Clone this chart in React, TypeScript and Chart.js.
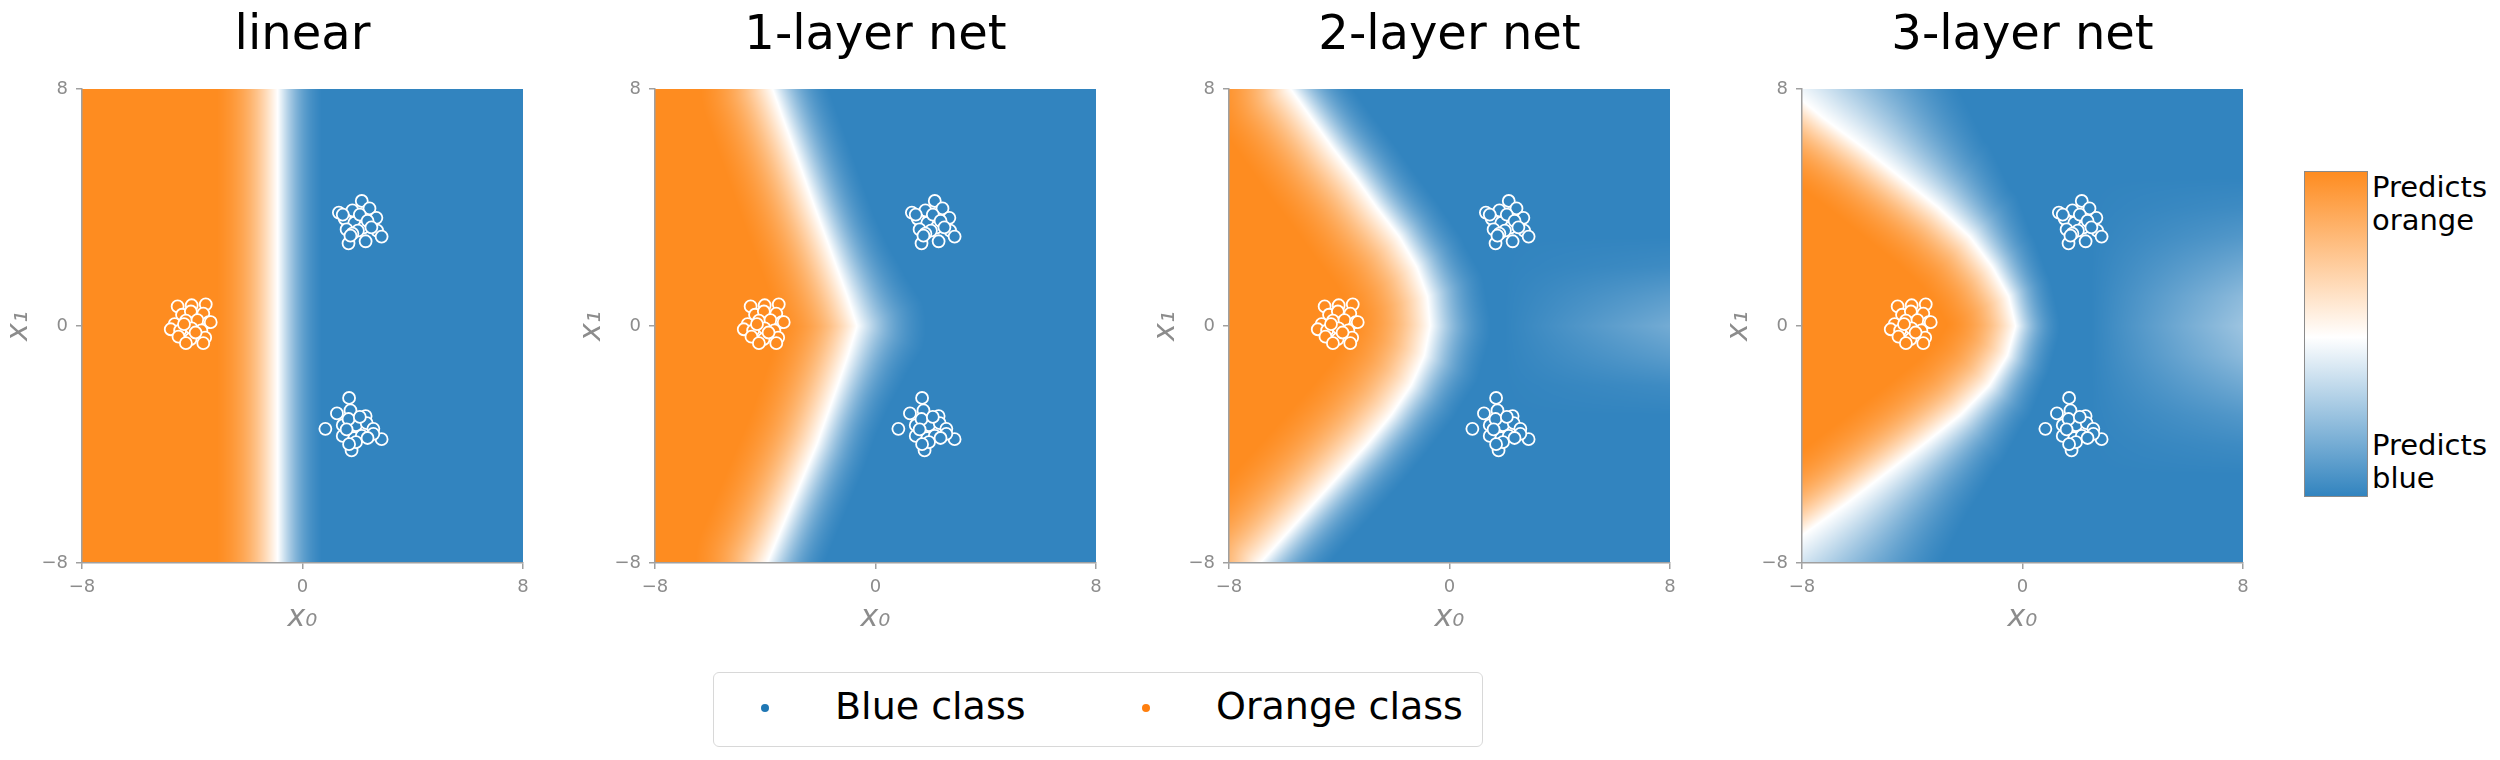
import React, { useEffect, useRef } from 'react';
import { Chart, registerables } from 'chart.js';

Chart.register(...registerables);

const FONT = "'DejaVu Sans', 'Liberation Sans', sans-serif";

// ---------- data ----------
const PANEL_TITLES = ['linear', '1-layer net', '2-layer net', '3-layer net'];
const AXIS_TICKS = [-8, 0, 8];
const AXIS_MIN = -8;
const AXIS_MAX = 8;

// sample rows (x1 values) at which the decision boundary was read
const ROW_Y = [8, 7, 6, 5, 4, 3, 2, 1, 0, -1, -2, -3, -4, -5, -6, -7, -8];

// x0 position of the white (p = 0.5) boundary on each row
const BOUNDARY_LINEAR = [-0.9, -0.9, -0.9, -0.9, -0.9, -0.9, -0.9, -0.9, -0.9, -0.9, -0.9, -0.9, -0.9, -0.9, -0.9, -0.9, -0.9];
const BOUNDARY_NET1 = [-3.73, -3.35, -2.96, -2.58, -2.2, -1.8, -1.41, -1.02, -0.67, -1.0, -1.37, -1.75, -2.13, -2.58, -3.03, -3.48, -3.93];
const BOUNDARY_NET2 = [-5.76, -5.0, -4.23, -3.4, -2.64, -1.81, -1.19, -0.8, -0.7, -0.91, -1.39, -2.11, -2.99, -3.96, -4.93, -5.9, -6.86];
const BOUNDARY_NET3 = [-8.5, -7.2, -5.75, -4.4, -3.05, -1.9, -1.1, -0.5, -0.25, -0.55, -1.2, -2.25, -3.6, -5.0, -6.4, -7.9, -9.4];

// width of the fade from the boundary to full orange / full blue
const ORANGE_WIDTH_LINEAR = [2.2, 2.2, 2.2, 2.2, 2.2, 2.2, 2.2, 2.2, 2.2, 2.2, 2.2, 2.2, 2.2, 2.2, 2.2, 2.2, 2.2];
const BLUE_WIDTH_LINEAR = [1.6, 1.6, 1.6, 1.6, 1.6, 1.6, 1.6, 1.6, 1.6, 1.6, 1.6, 1.6, 1.6, 1.6, 1.6, 1.6, 1.6];
const ORANGE_WIDTH_NET1 = [2.6, 2.6, 2.6, 2.6, 2.6, 2.6, 2.6, 2.6, 2.6, 2.6, 2.6, 2.6, 2.6, 2.6, 2.6, 2.6, 2.6];
const BLUE_WIDTH_NET1 = [1.9, 1.9, 1.9, 1.9, 1.9, 1.9, 2.0, 2.2, 2.5, 2.2, 2.0, 1.9, 1.9, 1.9, 1.9, 1.9, 1.9];
const ORANGE_WIDTH_NET2 = [2.8, 2.8, 2.8, 2.8, 2.8, 2.8, 2.8, 2.8, 2.8, 2.8, 2.8, 2.8, 2.8, 2.8, 2.8, 2.8, 2.8];
const BLUE_WIDTH_NET2 = [1.8, 1.8, 1.8, 1.8, 1.8, 1.8, 1.9, 2.1, 2.2, 2.1, 1.9, 1.8, 1.8, 1.8, 1.8, 1.8, 1.8];
const ORANGE_WIDTH_NET3 = [2.4, 2.4, 2.4, 2.4, 2.4, 2.4, 2.4, 2.4, 2.4, 2.4, 2.4, 2.4, 2.4, 2.4, 2.4, 2.4, 2.4];
const BLUE_WIDTH_NET3 = [6.5, 5.5, 4.5, 3.6, 2.8, 2.2, 1.8, 1.6, 1.6, 1.6, 1.8, 2.2, 2.8, 3.6, 4.5, 5.5, 6.5];

// value of the field at the right edge (x0 = 8) on each row (1 = full blue)
const RIGHT_EDGE_LINEAR = [1, 1, 1, 1, 1, 1, 1, 1, 1, 1, 1, 1, 1, 1, 1, 1, 1];
const RIGHT_EDGE_NET1 = [1, 1, 1, 1, 1, 1, 1, 1, 1, 1, 1, 1, 1, 1, 1, 1, 1];
const RIGHT_EDGE_NET2 = [1, 1, 1, 1, 1, 1, 0.97, 0.9, 0.84, 0.9, 0.97, 1, 1, 1, 1, 1, 1];
const RIGHT_EDGE_NET3 = [1, 1, 1, 1, 0.97, 0.92, 0.85, 0.78, 0.74, 0.78, 0.85, 0.92, 0.97, 1, 1, 1, 1];
const RIDGE_START = [8, 8, 2, 2.5];

// training points
const BLUE_X = [1.32, 2.15, 2.43, 1.81, 1.53, 2.68, 1.88, 2.22, 1.6, 2.01, 2.71, 2.87, 1.67, 2.29, 1.81, 1.46, 2.08, 2.36, 1.74, 2.5,
  1.69, 1.25, 1.74, 2.29, 1.46, 1.94, 2.33, 2.57, 0.83, 1.67, 2.08, 1.46, 1.88, 2.15, 2.87, 1.78, 1.94, 2.57, 1.6, 2.36, 1.69];
const BLUE_Y = [3.83, 4.22, 3.97, 3.9, 3.62, 3.65, 3.48, 3.33, 3.26, 3.22, 3.22, 3.02, 2.79, 2.86, 3.12, 3.76, 3.76, 3.55, 3.05, 3.33,
  -2.43, -2.95, -2.85, -3.04, -3.35, -3.35, -3.28, -3.47, -3.47, -3.14, -3.07, -3.71, -3.78, -3.71, -3.82, -4.2, -3.92, -3.64, -3.49, -3.78, -3.99];
const ORANGE_X = [-4.53, -4.02, -3.51, -4.37, -4.05, -3.6, -4.64, -4.23, -3.81, -3.4, -4.78, -4.44, -4.02, -3.67, -3.33, -4.5, -4.06, -3.53, -4.23, -3.6, -4.3, -3.88];
const ORANGE_Y = [0.66, 0.7, 0.73, 0.38, 0.49, 0.42, 0.06, 0.18, 0.2, 0.13, -0.11, -0.15, -0.08, -0.15, 0.13, -0.36, -0.44, -0.39, -0.58, -0.58, 0.06, -0.22];

const LEGEND_LABELS = ['Blue class', 'Orange class'];
const COLORBAR_LABELS = [['Predicts', 'orange'], ['Predicts', 'blue']];

// ---------- styles ----------
const ORANGE_RGB = [254, 140, 32];
const WHITE_RGB = [255, 255, 255];
const BLUE_RGB = [50, 132, 191];
const AXIS_COLOR = '#a0a0a0';
const TICK_COLOR = '#8c8c8c';
const SHAPE = 1.5;

type PanelCfg = {
  title: string;
  boundary: number[];
  orangeWidth: number[];
  blueWidth: number[];
  rightEdge: number[];
  ridgeStart: number;
};

const PANELS: PanelCfg[] = [
  { title: PANEL_TITLES[0], boundary: BOUNDARY_LINEAR, orangeWidth: ORANGE_WIDTH_LINEAR, blueWidth: BLUE_WIDTH_LINEAR, rightEdge: RIGHT_EDGE_LINEAR, ridgeStart: RIDGE_START[0] },
  { title: PANEL_TITLES[1], boundary: BOUNDARY_NET1, orangeWidth: ORANGE_WIDTH_NET1, blueWidth: BLUE_WIDTH_NET1, rightEdge: RIGHT_EDGE_NET1, ridgeStart: RIDGE_START[1] },
  { title: PANEL_TITLES[2], boundary: BOUNDARY_NET2, orangeWidth: ORANGE_WIDTH_NET2, blueWidth: BLUE_WIDTH_NET2, rightEdge: RIGHT_EDGE_NET2, ridgeStart: RIDGE_START[2] },
  { title: PANEL_TITLES[3], boundary: BOUNDARY_NET3, orangeWidth: ORANGE_WIDTH_NET3, blueWidth: BLUE_WIDTH_NET3, rightEdge: RIGHT_EDGE_NET3, ridgeStart: RIDGE_START[3] },
];

const PANEL_LEFT = [0, 573, 1147, 1720];

function rowValue(arr: number[], y: number): number {
  const n = ROW_Y.length;
  if (y >= ROW_Y[0]) return arr[0];
  if (y <= ROW_Y[n - 1]) return arr[n - 1];
  for (let i = 0; i < n - 1; i++) {
    const ya = ROW_Y[i];
    const yb = ROW_Y[i + 1];
    if (y <= ya && y >= yb) {
      const t = (ya - y) / (ya - yb);
      return arr[i] + (arr[i + 1] - arr[i]) * t;
    }
  }
  return arr[n - 1];
}

function fieldValue(cfg: PanelCfg, x: number, y: number): number {
  const b = cfg.boundary;
  const n = ROW_Y.length;
  const orangeSide = x < rowValue(b, y);
  let best = Infinity;
  let bestI = 0;
  let bestT = 0;
  for (let i = 0; i < n - 1; i++) {
    const ax = b[i];
    const ay = ROW_Y[i];
    const dx = b[i + 1] - ax;
    const dy = ROW_Y[i + 1] - ay;
    const len2 = dx * dx + dy * dy;
    let t = ((x - ax) * dx + (y - ay) * dy) / len2;
    t = t < 0 ? 0 : t > 1 ? 1 : t;
    const px = ax + dx * t - x;
    const py = ay + dy * t - y;
    const d2 = px * px + py * py;
    if (d2 < best) {
      best = d2;
      bestI = i;
      bestT = t;
    }
  }
  const ws = orangeSide ? cfg.orangeWidth : cfg.blueWidth;
  const w = ws[bestI] + (ws[bestI + 1] - ws[bestI]) * bestT;
  const t = Math.min(Math.sqrt(best) / w, 1);
  const g = Math.tanh(SHAPE * t) / Math.tanh(SHAPE);
  let p = orangeSide ? 0.5 - 0.5 * g : 0.5 + 0.5 * g;
  if (x > cfg.ridgeStart && cfg.ridgeStart < AXIS_MAX) {
    const e = rowValue(cfg.rightEdge, y);
    const r = 1 - (1 - e) * (x - cfg.ridgeStart) / (AXIS_MAX - cfg.ridgeStart);
    if (r < p) p = r;
  }
  return p;
}

function colorAt(p: number): number[] {
  if (p < 0.5) {
    const t = p / 0.5;
    return [0, 1, 2].map((k) => ORANGE_RGB[k] + (WHITE_RGB[k] - ORANGE_RGB[k]) * t);
  }
  const t = (p - 0.5) / 0.5;
  return [0, 1, 2].map((k) => WHITE_RGB[k] + (BLUE_RGB[k] - WHITE_RGB[k]) * t);
}

function fieldPlugin(cfg: PanelCfg, id: string) {
  return {
    id,
    beforeDraw(chart: any) {
      const { ctx, chartArea, scales } = chart;
      const x0 = Math.round(chartArea.left);
      const y0 = Math.round(chartArea.top);
      const w = Math.round(chartArea.right) - x0;
      const h = Math.round(chartArea.bottom) - y0;
      if (w <= 0 || h <= 0) return;
      const img = ctx.createImageData(w, h);
      const data = img.data;
      for (let j = 0; j < h; j++) {
        const yv = scales.y.getValueForPixel(y0 + j + 0.5);
        for (let i = 0; i < w; i++) {
          const xv = scales.x.getValueForPixel(x0 + i + 0.5);
          const c = colorAt(fieldValue(cfg, xv, yv));
          const k = (j * w + i) * 4;
          data[k] = c[0];
          data[k + 1] = c[1];
          data[k + 2] = c[2];
          data[k + 3] = 255;
        }
      }
      ctx.putImageData(img, x0, y0);
    },
  };
}

const fmtTick = (v: any) => {
  const n = Number(v);
  return n < 0 ? '\u2212' + Math.abs(n) : String(n);
};

const rgb = (c: number[]) => `rgb(${c[0]}, ${c[1]}, ${c[2]})`;

function axis(isX: boolean) {
  return {
    type: 'linear',
    min: AXIS_MIN,
    max: AXIS_MAX,
    afterBuildTicks: (s: any) => {
      s.ticks = AXIS_TICKS.map((v) => ({ value: v }));
    },
    ticks: {
      color: TICK_COLOR,
      font: { family: FONT, size: 18 },
      padding: 8,
      maxRotation: 0,
      callback: fmtTick,
    },
    grid: { drawOnChartArea: false, drawTicks: true, tickLength: 6, color: AXIS_COLOR, lineWidth: 1.5 },
    border: { display: true, color: AXIS_COLOR, width: 1.5 },
    title: {
      display: true,
      text: isX ? 'x\u2080' : 'x\u2081',
      color: TICK_COLOR,
      font: { family: FONT, size: 30, style: 'italic' },
      padding: isX ? { top: 0, bottom: 124 } : { top: 1, bottom: 0 },
    },
    afterFit: (s: any) => {
      if (isX) s.height = 197;
      else s.width = 82;
    },
  };
}

function buildConfig(cfg: PanelCfg, idx: number): any {
  return {
    type: 'scatter',
    data: {
      datasets: [
        {
          label: LEGEND_LABELS[0],
          data: BLUE_X.map((x, i) => ({ x, y: BLUE_Y[i] })),
          pointRadius: 6,
          pointBorderWidth: 1.8,
          pointBorderColor: '#ffffff',
          pointBackgroundColor: rgb(BLUE_RGB),
        },
        {
          label: LEGEND_LABELS[1],
          data: ORANGE_X.map((x, i) => ({ x, y: ORANGE_Y[i] })),
          pointRadius: 6,
          pointBorderWidth: 1.8,
          pointBorderColor: '#ffffff',
          pointBackgroundColor: rgb(ORANGE_RGB),
        },
      ],
    },
    options: {
      responsive: false,
      animation: false,
      events: [],
      layout: { padding: { left: 0, right: 51, top: 0, bottom: 0 } },
      plugins: {
        legend: { display: false },
        tooltip: { enabled: false },
        title: {
          display: true,
          text: cfg.title,
          fullSize: false,
          color: '#000000',
          font: { family: FONT, size: 48, weight: 'normal' },
          padding: { top: 8, bottom: 23.4 },
        },
      },
      scales: { x: axis(true), y: axis(false) },
    },
    plugins: [fieldPlugin(cfg, 'decisionField' + idx)],
  };
}

function Panel({ cfg, idx }: { cfg: PanelCfg; idx: number }) {
  const ref = useRef<HTMLCanvasElement>(null);
  useEffect(() => {
    if (!ref.current) return;
    const chart = new Chart(ref.current, buildConfig(cfg, idx));
    return () => chart.destroy();
  }, [cfg, idx]);
  return (
    <canvas
      ref={ref}
      width={574}
      height={760}
      style={{ position: 'absolute', left: PANEL_LEFT[idx], top: 0, width: 574, height: 760, display: 'block' }}
    />
  );
}

export default function App() {
  const textBase: React.CSSProperties = { position: 'absolute', fontFamily: FONT, color: '#000', whiteSpace: 'nowrap' };
  return (
    <div style={{ position: 'absolute', left: 0, top: 0, width: 2500, height: 760, background: '#ffffff', overflow: 'hidden' }}>
      {PANELS.map((cfg, i) => (
        <Panel key={i} cfg={cfg} idx={i} />
      ))}
      {/* colorbar */}
      <div
        style={{
          position: 'absolute',
          left: 2304,
          top: 171,
          width: 64,
          height: 326,
          boxSizing: 'border-box',
          border: '1px solid #8a8a8a',
          background: `linear-gradient(to bottom, ${rgb(ORANGE_RGB)} 0%, #ffffff 51%, ${rgb(BLUE_RGB)} 100%)`,
        }}
      />
      <div style={{ ...textBase, left: 2372, top: 171, fontSize: 29, lineHeight: '33px' }}>
        {COLORBAR_LABELS[0][0]}
        <br />
        {COLORBAR_LABELS[0][1]}
      </div>
      <div style={{ ...textBase, left: 2372, top: 429, fontSize: 29, lineHeight: '33px' }}>
        {COLORBAR_LABELS[1][0]}
        <br />
        {COLORBAR_LABELS[1][1]}
      </div>
      {/* legend */}
      <div
        style={{
          position: 'absolute',
          left: 713,
          top: 672,
          width: 770,
          height: 75,
          boxSizing: 'border-box',
          border: '1.5px solid #d8d8d8',
          borderRadius: 6,
          background: '#ffffff',
        }}
      />
      <div style={{ position: 'absolute', left: 761, top: 704, width: 8, height: 8, borderRadius: 4, background: '#1f77b4' }} />
      <div style={{ position: 'absolute', left: 1142, top: 704, width: 8, height: 8, borderRadius: 4, background: '#ff7f0e' }} />
      <div style={{ ...textBase, left: 835, top: 686, fontSize: 38, lineHeight: '40px' }}>{LEGEND_LABELS[0]}</div>
      <div style={{ ...textBase, left: 1216, top: 686, fontSize: 38, lineHeight: '40px' }}>{LEGEND_LABELS[1]}</div>
    </div>
  );
}
